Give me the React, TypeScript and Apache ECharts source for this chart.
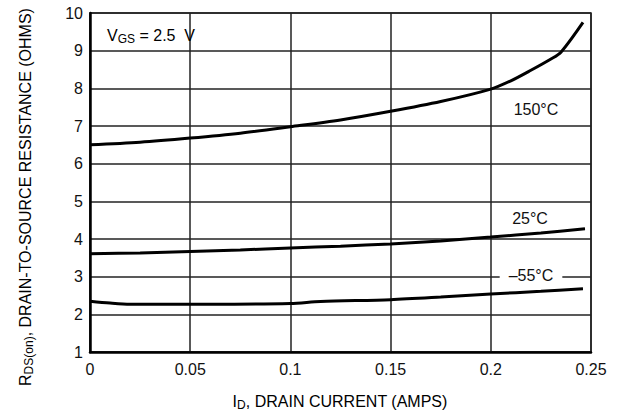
import React, { useEffect, useRef } from "react";
import * as echarts from "echarts";

const xTicks = [0, 0.05, 0.1, 0.15, 0.2, 0.25];
const yTicks = [1, 2, 3, 4, 5, 6, 7, 8, 9, 10];

// Drain current (A) vs RDS(on) (ohms)
const t150: [number, number][] = [
  [0, 6.5], [0.025, 6.57], [0.05, 6.68], [0.075, 6.81], [0.1, 6.98],
  [0.125, 7.16], [0.15, 7.39], [0.175, 7.65], [0.2, 7.98], [0.21, 8.2],
  [0.22, 8.48], [0.23, 8.78], [0.235, 8.96], [0.246, 9.75],
];
const t25: [number, number][] = [
  [0, 3.61], [0.025, 3.63], [0.05, 3.67], [0.075, 3.71], [0.1, 3.76],
  [0.125, 3.81], [0.15, 3.87], [0.175, 3.95], [0.2, 4.05], [0.225, 4.16],
  [0.247, 4.27],
];
const tm55: [number, number][] = [
  [0, 2.35], [0.01, 2.3], [0.02, 2.27], [0.06, 2.27], [0.1, 2.29],
  [0.115, 2.34], [0.15, 2.39], [0.175, 2.46], [0.2, 2.54], [0.225, 2.61],
  [0.246, 2.68],
];

const curveLabels = ["150°C", "25°C", "–55°C"];
const FONT = "Liberation Sans, Arial, sans-serif";

export default function App() {
  const ref = useRef<HTMLDivElement>(null);
  useEffect(() => {
    if (!ref.current) return;
    const chart = echarts.init(ref.current, undefined, { renderer: "svg" });
    const lineStyle = { color: "#000", width: 3 };
    const mkSeries = (name: string, data: [number, number][]) => ({
      type: "line",
      name,
      data,
      smooth: 0.3,
      showSymbol: false,
      symbol: "none",
      lineStyle,
      z: 5,
    });
    const rich = {
      a: { fontSize: 16, fontFamily: FONT, color: "#111", lineHeight: 20, verticalAlign: "middle" },
      b: { fontSize: 12, fontFamily: FONT, color: "#111", lineHeight: 20, verticalAlign: "bottom" },
    };
    chart.setOption({
      animation: false,
      backgroundColor: "#fff",
      grid: {
        left: 90,
        right: 33,
        top: 13,
        bottom: 64,
        show: true,
        borderColor: "#222",
        borderWidth: 1.5,
      },
      xAxis: {
        type: "value",
        min: xTicks[0],
        max: xTicks[xTicks.length - 1],
        interval: 0.05,
        axisLine: { show: true, onZero: false, lineStyle: { color: "#000", width: 2.5 } },
        axisTick: { show: false },
        splitLine: { show: true, lineStyle: { color: "#222", width: 1.5 } },
        axisLabel: {
          margin: 9,
          fontSize: 16,
          fontFamily: FONT,
          color: "#111",
          formatter: (v: number) => String(Math.round(v * 100) / 100),
        },
      },
      yAxis: {
        type: "value",
        min: yTicks[0],
        max: yTicks[yTicks.length - 1],
        interval: 1,
        axisLine: { show: true, onZero: false, lineStyle: { color: "#000", width: 2.5 } },
        axisTick: { show: false },
        splitLine: { show: true, lineStyle: { color: "#222", width: 1.5 } },
        axisLabel: { margin: 7, fontSize: 16, fontFamily: FONT, color: "#111" },
      },
      series: [
        mkSeries(curveLabels[0], t150),
        mkSeries(curveLabels[1], t25),
        mkSeries(curveLabels[2], tm55),
      ],
      graphic: [
        {
          type: "text",
          z: 100,
          x: 107,
          y: 35,
          style: {
            text: "{a|V}{b|GS}{a| = 2.5  V}",
            rich,
            align: "left",
            verticalAlign: "middle",
          },
        },
        {
          type: "text",
          z: 100,
          x: 536,
          y: 109,
          style: { text: curveLabels[0], fontSize: 16, fontFamily: FONT, fill: "#111", align: "center", verticalAlign: "middle" },
        },
        {
          type: "text",
          z: 100,
          x: 530,
          y: 218,
          style: { text: curveLabels[1], fontSize: 16, fontFamily: FONT, fill: "#111", align: "center", verticalAlign: "middle" },
        },
        {
          type: "text",
          z: 100,
          x: 531,
          y: 275,
          style: {
            text: curveLabels[2],
            fontSize: 16,
            fontFamily: FONT,
            fill: "#111",
            align: "center",
            verticalAlign: "middle",
            backgroundColor: "#fff",
            padding: [0, 9],
          },
        },
        {
          type: "text",
          z: 100,
          x: 340,
          y: 401,
          style: {
            text: "{a|I}{b|D}{a|, DRAIN CURRENT (AMPS)}",
            rich,
            align: "center",
            verticalAlign: "middle",
          },
        },
        {
          type: "text",
          z: 100,
          x: 25,
          y: 197,
          rotation: Math.PI / 2,
          style: {
            text: "{a|R}{b|DS(on)}{a|, DRAIN-TO-SOURCE RESISTANCE (OHMS)}",
            rich,
            align: "center",
            verticalAlign: "middle",
          },
        },
      ],
    });
    return () => chart.dispose();
  }, []);
  return (
    <div
      ref={ref}
      style={{ position: "absolute", left: 0, top: 0, width: 624, height: 416 }}
    />
  );
}
